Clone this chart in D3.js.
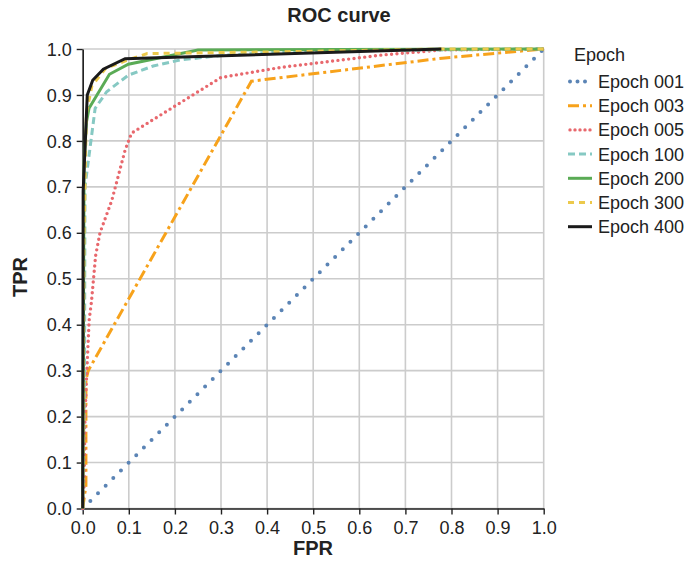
<!DOCTYPE html>
<html>
<head>
<meta charset="utf-8">
<script src="https://cdn.jsdelivr.net/npm/d3@7"></script>
<style>
  html, body { margin: 0; padding: 0; background: #fff; }
  svg { display: block; font-family: "Liberation Sans", Arial, Helvetica, sans-serif; }
</style>
</head>
<body>
<svg id="chart" width="688" height="561"></svg>
<script>
// ROC curves at several training epochs: [FPR, TPR] pairs
const epoch001 = [[0, 0], [1, 1]];
const epoch003 = [[0, 0], [0.007, 0.05], [0.007, 0.28], [0.012, 0.3], [0.366, 0.93], [0.78, 0.98], [1, 1]];
const epoch005 = [[0, 0], [0.003, 0.05], [0.005, 0.2], [0.009, 0.3], [0.014, 0.41], [0.019, 0.45],
                  [0.028, 0.55], [0.0375, 0.6], [0.063, 0.67], [0.092, 0.78], [0.106, 0.817],
                  [0.3, 0.938], [0.43, 0.96], [0.65, 0.987], [0.78, 0.998], [1, 1]];
const epoch100 = [[0, 0], [0.004, 0.3], [0.005, 0.7], [0.027, 0.871], [0.052, 0.907], [0.099, 0.943],
                  [0.153, 0.963], [0.211, 0.976], [0.3, 0.986], [0.45, 0.995], [1, 1]];
const epoch200 = [[0, 0], [0.003, 0.75], [0.008, 0.84], [0.0137, 0.871], [0.058, 0.945], [0.099, 0.967],
                  [0.25, 0.998], [1, 1]];
const epoch300 = [[0, 0], [0.003, 0.6], [0.008, 0.86], [0.02, 0.92], [0.05, 0.958], [0.1, 0.977],
                  [0.14, 0.99], [0.5, 0.995], [0.78, 1.0], [1, 1]];
const epoch400 = [[0, 0], [0.001, 0.69], [0.0099, 0.9], [0.0217, 0.932], [0.0447, 0.956], [0.092, 0.979],
                  [0.778, 1.0]];

const seriesNames = ["Epoch 001", "Epoch 003", "Epoch 005", "Epoch 100", "Epoch 200", "Epoch 300", "Epoch 400"];
const seriesData = [epoch001, epoch003, epoch005, epoch100, epoch200, epoch300, epoch400];
const seriesColors = ["#5b84b5", "#f7a21b", "#e8686d", "#86c9c3", "#5aab55", "#ecc94b", "#1a1a1a"];
const seriesDash = ["0,10.8", "11,4,3,4", "0,5.4", "7,4", null, "6,5", null];
const seriesWidth = [4, 3, 3.4, 3, 3, 3, 3];

const tickValues = d3.range(0, 11).map(i => i / 10);

const svg = d3.select("#chart");
const plotLeft = 82.7, plotRight = 543.7, plotTop = 49, plotBottom = 508.5;

const x = d3.scaleLinear().domain([0, 1]).range([plotLeft, plotRight]);
const y = d3.scaleLinear().domain([0, 1]).range([plotBottom, plotTop]);

// grid
const grid = svg.append("g");
grid.selectAll("line.gx").data(tickValues).join("line")
  .attr("x1", d => x(d)).attr("x2", d => x(d))
  .attr("y1", plotTop).attr("y2", plotBottom)
  .attr("stroke", "#cccccc").attr("stroke-width", 1.6);
grid.selectAll("line.gy").data(tickValues).join("line")
  .attr("x1", plotLeft).attr("x2", plotRight)
  .attr("y1", d => y(d)).attr("y2", d => y(d))
  .attr("stroke", "#cccccc").attr("stroke-width", 1.6);

// axes
const fmt = d3.format(".1f");
const xAxis = svg.append("g").attr("transform", `translate(0,${plotBottom})`)
  .call(d3.axisBottom(x).tickValues(tickValues).tickFormat(fmt).tickSize(6).tickSizeOuter(0));
const yAxis = svg.append("g").attr("transform", `translate(${plotLeft},0)`)
  .call(d3.axisLeft(y).tickValues(tickValues).tickFormat(fmt).tickSize(6).tickSizeOuter(0));
[xAxis, yAxis].forEach(a => {
  a.select(".domain").attr("stroke", "#222").attr("stroke-width", 1.6);
  a.selectAll(".tick line").attr("stroke", "#222").attr("stroke-width", 1.4);
  a.selectAll(".tick text").attr("fill", "#222").attr("font-size", 18)
    .attr("font-family", "'Liberation Sans', Arial, sans-serif");
});
xAxis.selectAll(".tick text").attr("dy", null).attr("y", 25);
yAxis.selectAll(".tick text").attr("x", -11).attr("dy", "0.34em");

// curves
const line = d3.line().x(d => x(d[0])).y(d => y(d[1]));
const curves = svg.append("g");
seriesData.forEach((data, i) => {
  curves.append("path")
    .datum(data)
    .attr("d", line)
    .attr("fill", "none")
    .attr("stroke", seriesColors[i])
    .attr("stroke-width", seriesWidth[i])
    .attr("stroke-dasharray", seriesDash[i])
    .attr("stroke-linecap", seriesDash[i] && seriesDash[i].startsWith("0,") ? "round" : "butt")
    .attr("stroke-linejoin", "miter");
});

// titles
svg.append("text").attr("x", 339).attr("y", 22).attr("text-anchor", "middle")
  .attr("font-size", 20).attr("font-weight", "bold").attr("fill", "#222").text("ROC curve");
svg.append("text").attr("x", 313).attr("y", 555).attr("text-anchor", "middle")
  .attr("font-size", 20).attr("font-weight", "bold").attr("fill", "#222").text("FPR");
svg.append("text").attr("transform", `translate(27,277) rotate(-90)`)
  .attr("text-anchor", "middle")
  .attr("font-size", 20).attr("font-weight", "bold").attr("fill", "#222").text("TPR");

// legend
const legend = svg.append("g");
legend.append("text").attr("x", 574).attr("y", 61).attr("font-size", 18).attr("fill", "#222").text("Epoch");
seriesNames.forEach((name, i) => {
  const cy = 81.5 + i * 24.2;
  legend.append("line")
    .attr("x1", seriesDash[i] && seriesDash[i].startsWith("0,") ? 570 : 568)
    .attr("x2", 592).attr("y1", cy).attr("y2", cy)
    .attr("stroke", seriesColors[i])
    .attr("stroke-width", seriesWidth[i])
    .attr("stroke-dasharray", i === 0 ? "0,7.5" : i === 2 ? "0,5" : seriesDash[i])
    .attr("stroke-linecap", seriesDash[i] && seriesDash[i].startsWith("0,") ? "round" : "butt");
  legend.append("text").attr("x", 598).attr("y", cy + 6.5).attr("font-size", 18)
    .attr("fill", "#222").text(name);
});
</script>
</body>
</html>
